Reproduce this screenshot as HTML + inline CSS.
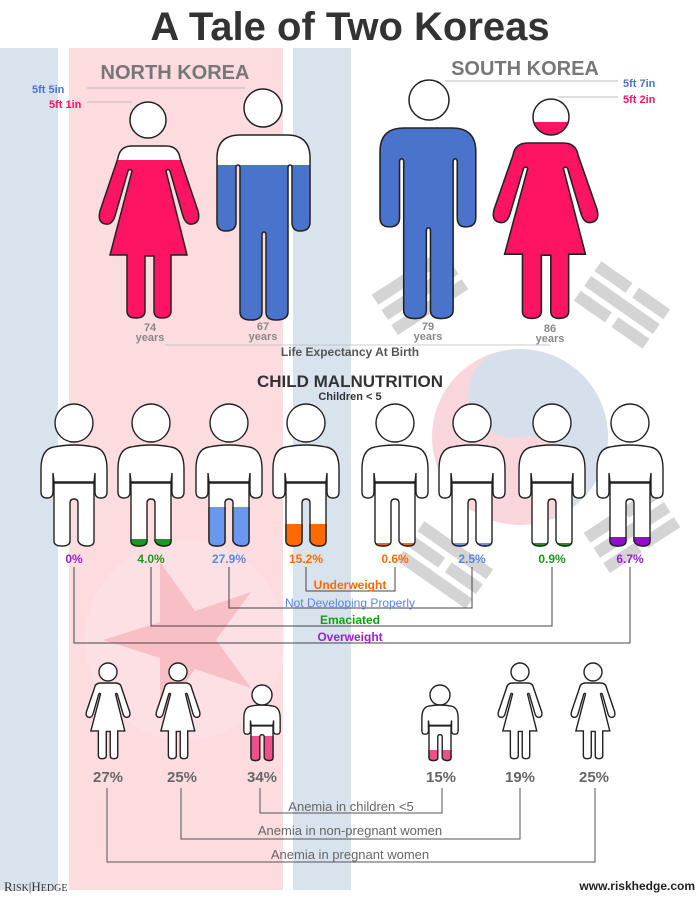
<!DOCTYPE html>
<html><head><meta charset="utf-8"><style>
html,body{margin:0;padding:0;background:#fff;}
svg{display:block;}
text{font-family:"Liberation Sans",sans-serif;font-weight:bold;}
.n{font-weight:normal;}
</style></head><body>
<svg width="700" height="899" viewBox="0 0 700 899" xmlns="http://www.w3.org/2000/svg">
<defs>
<path id="man" d="M0,23 Q0,0 23,0 H70 Q93,0 93,23 V87 Q93,96 83,96 Q75,96 75,87 V33 Q75,30 73,30 Q71,30 71,33 V177 Q71,185 59,185 Q49,185 49,177 V100 Q49,97 47,97 Q45,97 45,100 V177 Q45,185 34,185 Q23,185 23,177 V33 Q23,30 21,30 Q19,30 19,33 V87 Q19,96 9,96 Q0,96 0,87 Z"/>
<path id="woman" d="M0,12 Q2,0 14,0 H48 Q60,0 62,12 L80,65 Q83,77 74,78 Q68,79 65,70 L52,25 Q50,22 48,25 L69,109 H53 V165 Q53,172 44,172 Q36,172 36,165 V110 H27 V165 Q27,172 18,172 Q9,172 9,165 V109 H-8 L14,25 Q12,22 10,25 L-3,70 Q-6,79 -12,78 Q-21,77 -18,65 Z"/>
<path id="shirt" d="M-20,2 Q-33,4 -33,24 V47 Q-33,53 -27,53 Q-21,53 -21,47 V28 L-20,37 H20 L21,28 V47 Q21,53 27,53 Q33,53 33,47 V24 Q33,4 20,2 Q0,-2 -20,2 Z"/>
<path id="pants" d="M-20,38 H20 V96 Q20,101 13,101 Q6,101 4,96 V58 Q4,54 0,54 Q-4,54 -4,58 V96 Q-4,101 -12,101 Q-20,101 -20,96 Z"/>
</defs>

<rect x="0" y="48" width="58" height="842" fill="#d9e3ee"/>
<rect x="69" y="48" width="214" height="842" fill="#fddcdf"/>
<rect x="293" y="48" width="58" height="842" fill="#d9e3ee"/>

<!-- star -->
<circle cx="185" cy="640" r="100" fill="#fde4e7" opacity="0.5"/>
<polygon fill="#f7b6be" opacity="0.8" points="103,640 160,622 160,562 195,611 251,592 216,640 251,688 195,669 160,718 160,658"/>

<!-- taegeuk -->
<circle cx="520" cy="437" r="88" fill="#f8d6dc"/>
<path transform="rotate(-10 520 437)" d="M520,349 A88,88 0 0 1 520,525 A44,44 0 0 0 520,437 A44,44 0 0 1 520,349 Z" fill="#d6e0ec"/>

<!-- trigrams -->
<g fill="#d4d4d4">
<g transform="translate(420,292) rotate(-33)">
<rect x="-42" y="-24" width="84" height="12"/><rect x="-42" y="-6" width="84" height="12"/><rect x="-42" y="12" width="84" height="12"/>
</g>
<g transform="translate(622,305) rotate(35)">
<rect x="-42" y="-24" width="38" height="12"/><rect x="4" y="-24" width="38" height="12"/>
<rect x="-42" y="-6" width="84" height="12"/>
<rect x="-42" y="12" width="38" height="12"/><rect x="4" y="12" width="38" height="12"/>
</g>
<g transform="translate(445,565) rotate(35)">
<rect x="-42" y="-24" width="84" height="12"/>
<rect x="-42" y="-6" width="38" height="12"/><rect x="4" y="-6" width="38" height="12"/>
<rect x="-42" y="12" width="84" height="12"/>
</g>
<g transform="translate(632,530) rotate(-33)">
<rect x="-42" y="-24" width="38" height="12"/><rect x="4" y="-24" width="38" height="12"/>
<rect x="-42" y="-6" width="84" height="12"/>
<rect x="-42" y="12" width="38" height="12"/><rect x="4" y="12" width="38" height="12"/>
</g>
</g>

<text x="350" y="40" font-size="40" fill="#333" text-anchor="middle">A Tale of Two Koreas</text>
<text x="175" y="79" font-size="20" fill="#777" text-anchor="middle">NORTH KOREA</text>
<text x="525" y="75" font-size="20" fill="#777" text-anchor="middle">SOUTH KOREA</text>

<text x="32" y="93" font-size="11" fill="#4a74cc">5ft 5in</text>
<text x="49" y="108" font-size="11" fill="#ff1464">5ft 1in</text>
<line x1="87" y1="88" x2="245" y2="88" stroke="#aaa" stroke-width="0.8"/>
<line x1="87" y1="102" x2="132" y2="102" stroke="#aaa" stroke-width="0.8"/>
<text x="623" y="87" font-size="11" fill="#4a74cc">5ft 7in</text>
<text x="623" y="103" font-size="11" fill="#ff1464">5ft 2in</text>
<line x1="445" y1="81" x2="618" y2="81" stroke="#aaa" stroke-width="0.8"/>
<line x1="558" y1="97" x2="618" y2="97" stroke="#aaa" stroke-width="0.8"/>

<clipPath id="c1"><rect x="0" y="160" width="700" height="300"/></clipPath>
<use href="#woman" transform="translate(118,146)" fill="#fff"/>
<g clip-path="url(#c1)"><use href="#woman" transform="translate(118,146)" fill="#ff1464"/></g>
<use href="#woman" transform="translate(118,146)" fill="none" stroke="#222" stroke-width="1.5"/>
<circle cx="148" cy="120" r="18" fill="#fff" stroke="#222" stroke-width="1.5"/>

<clipPath id="c2"><rect x="0" y="165" width="700" height="300"/></clipPath>
<use href="#man" transform="translate(217,135)" fill="#fff"/>
<g clip-path="url(#c2)"><use href="#man" transform="translate(217,135)" fill="#4a74cc"/></g>
<use href="#man" transform="translate(217,135)" fill="none" stroke="#222" stroke-width="1.5"/>
<circle cx="263" cy="108" r="19" fill="#fff" stroke="#222" stroke-width="1.5"/>

<use href="#man" transform="translate(380,128) scale(1.03,1.03)" fill="#4a74cc" stroke="#222" stroke-width="1.5"/>
<circle cx="429" cy="100" r="20" fill="#fff" stroke="#222" stroke-width="1.5"/>

<use href="#woman" transform="translate(513,143) scale(1.05,1.02)" fill="#ff1464" stroke="#222" stroke-width="1.5"/>
<clipPath id="c3"><rect x="500" y="122" width="100" height="30"/></clipPath>
<circle cx="551" cy="117" r="18" fill="#fff"/>
<circle cx="551" cy="117" r="18" fill="#ff1464" clip-path="url(#c3)"/>
<circle cx="551" cy="117" r="18" fill="none" stroke="#222" stroke-width="1.5"/>

<g font-size="11" fill="#888" text-anchor="middle">
<text x="150" y="331">74</text><text x="150" y="341">years</text>
<text x="263" y="330">67</text><text x="263" y="340">years</text>
<text x="428" y="330">79</text><text x="428" y="340">years</text>
<text x="550" y="332">86</text><text x="550" y="342">years</text>
</g>
<line x1="165" y1="345" x2="550" y2="345" stroke="#bbb" stroke-width="0.8"/>
<text x="350" y="356" font-size="12" fill="#555" text-anchor="middle">Life Expectancy At Birth</text>

<text x="350" y="387" font-size="17" fill="#333" text-anchor="middle">CHILD MALNUTRITION</text>
<text x="350" y="400" font-size="11" fill="#333" text-anchor="middle">Children &lt; 5</text>

<g stroke="#222" stroke-width="1.4">
<g transform="translate(74,445)"><use href="#shirt" fill="#fff"/><use href="#pants" fill="#fff"/><circle cx="0" cy="-22" r="19" fill="#fff"/></g>
<g transform="translate(151,445)"><use href="#shirt" fill="#fff"/><use href="#pants" fill="#fff"/><circle cx="0" cy="-22" r="19" fill="#fff"/></g>
<g transform="translate(229,445)"><use href="#shirt" fill="#fff"/><use href="#pants" fill="#fff"/><circle cx="0" cy="-22" r="19" fill="#fff"/></g>
<g transform="translate(306,445)"><use href="#shirt" fill="#fff"/><use href="#pants" fill="#fff"/><circle cx="0" cy="-22" r="19" fill="#fff"/></g>
<g transform="translate(395,445)"><use href="#shirt" fill="#fff"/><use href="#pants" fill="#fff"/><circle cx="0" cy="-22" r="19" fill="#fff"/></g>
<g transform="translate(472,445)"><use href="#shirt" fill="#fff"/><use href="#pants" fill="#fff"/><circle cx="0" cy="-22" r="19" fill="#fff"/></g>
<g transform="translate(552,445)"><use href="#shirt" fill="#fff"/><use href="#pants" fill="#fff"/><circle cx="0" cy="-22" r="19" fill="#fff"/></g>
<g transform="translate(630,445)"><use href="#shirt" fill="#fff"/><use href="#pants" fill="#fff"/><circle cx="0" cy="-22" r="19" fill="#fff"/></g>
</g>
<clipPath id="k95"><rect x="-40" y="94" width="80" height="20"/></clipPath>
<clipPath id="k62"><rect x="-40" y="62" width="80" height="50"/></clipPath>
<clipPath id="k79"><rect x="-40" y="79" width="80" height="30"/></clipPath>
<clipPath id="k98"><rect x="-40" y="98" width="80" height="10"/></clipPath>
<clipPath id="k92"><rect x="-40" y="92" width="80" height="20"/></clipPath>
<g stroke="#222" stroke-width="1.4">
<g transform="translate(151,445)"><use href="#pants" fill="#1a9a1a" clip-path="url(#k95)"/></g>
<g transform="translate(229,445)"><use href="#pants" fill="#6a98f0" clip-path="url(#k62)"/></g>
<g transform="translate(306,445)"><use href="#pants" fill="#ff6a00" clip-path="url(#k79)"/></g>
<g transform="translate(395,445)"><use href="#pants" fill="#ff6a00" clip-path="url(#k98)"/></g>
<g transform="translate(472,445)"><use href="#pants" fill="#6a98f0" clip-path="url(#k98)"/></g>
<g transform="translate(552,445)"><use href="#pants" fill="#1a9a1a" clip-path="url(#k98)"/></g>
<g transform="translate(630,445)"><use href="#pants" fill="#9010c8" clip-path="url(#k92)"/></g>
</g>

<g font-size="12" text-anchor="middle">
<text x="74" y="563" fill="#9b1fd0">0%</text>
<text x="151" y="563" fill="#1a9a1a">4.0%</text>
<text x="229" y="563" fill="#5a86e0">27.9%</text>
<text x="306" y="563" fill="#ff6a00">15.2%</text>
<text x="395" y="563" fill="#ff6a00">0.6%</text>
<text x="472" y="563" fill="#5a86e0">2.5%</text>
<text x="552" y="563" fill="#1a9a1a">0.9%</text>
<text x="630" y="563" fill="#9b1fd0">6.7%</text>
</g>
<g fill="none" stroke="#444" stroke-width="1">
<polyline points="306,567 306,591 395,591 395,567"/>
<polyline points="229,567 229,608 472,608 472,567"/>
<polyline points="151,567 151,626 552,626 552,567"/>
<polyline points="74,567 74,643 630,643 630,567"/>
</g>
<g font-size="12" text-anchor="middle">
<text x="350" y="589" fill="#ff6a00">Underweight</text>
<text x="350" y="607" fill="#5a86e0" class="n">Not Developing Properly</text>
<text x="350" y="624" fill="#1a9a1a">Emaciated</text>
<text x="350" y="641" fill="#9b1fd0">Overweight</text>
</g>

<clipPath id="a735"><rect x="0" y="735" width="700" height="40"/></clipPath>
<clipPath id="a742"><rect x="0" y="742" width="700" height="40"/></clipPath>
<clipPath id="a736"><rect x="0" y="736" width="700" height="40"/></clipPath>
<clipPath id="a750"><rect x="0" y="750" width="700" height="40"/></clipPath>

<use href="#woman" transform="translate(94.4,683) scale(0.44)" fill="#fff"/>
<use href="#woman" transform="translate(94.4,683) scale(0.44)" fill="#f0508a" clip-path="url(#a735)"/>
<use href="#woman" transform="translate(94.4,683) scale(0.44)" fill="none" stroke="#222" stroke-width="3.2"/>
<circle cx="108" cy="672" r="9" fill="#fff" stroke="#222" stroke-width="1.4"/>

<use href="#woman" transform="translate(164.4,683) scale(0.44)" fill="#fff"/>
<use href="#woman" transform="translate(164.4,683) scale(0.44)" fill="#f0508a" clip-path="url(#a735)"/>
<use href="#woman" transform="translate(164.4,683) scale(0.44)" fill="none" stroke="#222" stroke-width="3.2"/>
<circle cx="178" cy="672" r="9" fill="#fff" stroke="#222" stroke-width="1.4"/>

<use href="#woman" transform="translate(506.4,683) scale(0.44)" fill="#fff"/>
<use href="#woman" transform="translate(506.4,683) scale(0.44)" fill="#f0508a" clip-path="url(#a742)"/>
<use href="#woman" transform="translate(506.4,683) scale(0.44)" fill="none" stroke="#222" stroke-width="3.2"/>
<circle cx="520" cy="672" r="9" fill="#fff" stroke="#222" stroke-width="1.4"/>

<use href="#woman" transform="translate(579.4,683) scale(0.44)" fill="#fff"/>
<use href="#woman" transform="translate(579.4,683) scale(0.44)" fill="#f0508a" clip-path="url(#a735)"/>
<use href="#woman" transform="translate(579.4,683) scale(0.44)" fill="none" stroke="#222" stroke-width="3.2"/>
<circle cx="593" cy="672" r="9" fill="#fff" stroke="#222" stroke-width="1.4"/>

<g transform="translate(262,705) scale(0.55)" stroke="#222" stroke-width="2.5">
<use href="#shirt" fill="#fff"/><use href="#pants" fill="#fff"/>
</g>
<g clip-path="url(#a736)"><g transform="translate(262,705) scale(0.55)" stroke="#222" stroke-width="2.5"><use href="#pants" fill="#f0508a"/></g></g>
<circle cx="262" cy="695" r="10" fill="#fff" stroke="#222" stroke-width="1.4"/>

<g transform="translate(440,705) scale(0.55)" stroke="#222" stroke-width="2.5">
<use href="#shirt" fill="#fff"/><use href="#pants" fill="#fff"/>
</g>
<g clip-path="url(#a750)"><g transform="translate(440,705) scale(0.55)" stroke="#222" stroke-width="2.5"><use href="#pants" fill="#f0508a"/></g></g>
<circle cx="440" cy="695" r="10" fill="#fff" stroke="#222" stroke-width="1.4"/>

<g font-size="15" fill="#666" text-anchor="middle">
<text x="108" y="782">27%</text>
<text x="182" y="782">25%</text>
<text x="262" y="782">34%</text>
<text x="441" y="782">15%</text>
<text x="520" y="782">19%</text>
<text x="594" y="782">25%</text>
</g>
<g fill="none" stroke="#555" stroke-width="1">
<polyline points="260,788 260,813 442,813 442,788"/>
<polyline points="181,788 181,839 520,839 520,788"/>
<polyline points="107,788 107,862 595,862 595,788"/>
</g>
<g font-size="13" fill="#666" text-anchor="middle">
<text x="351" y="811" class="n">Anemia in children &lt;5</text>
<text x="350" y="835" class="n">Anemia in non-pregnant women</text>
<text x="350" y="859" class="n">Anemia in pregnant women</text>
</g>

<text x="4" y="891" font-size="13" fill="#333" style="font-family:'Liberation Serif',serif;font-weight:normal">R<tspan font-size="10">ISK</tspan>|H<tspan font-size="10">EDGE</tspan></text>
<text x="695" y="890" font-size="12" fill="#222" text-anchor="end">www.riskhedge.com</text>
</svg>
</body></html>
